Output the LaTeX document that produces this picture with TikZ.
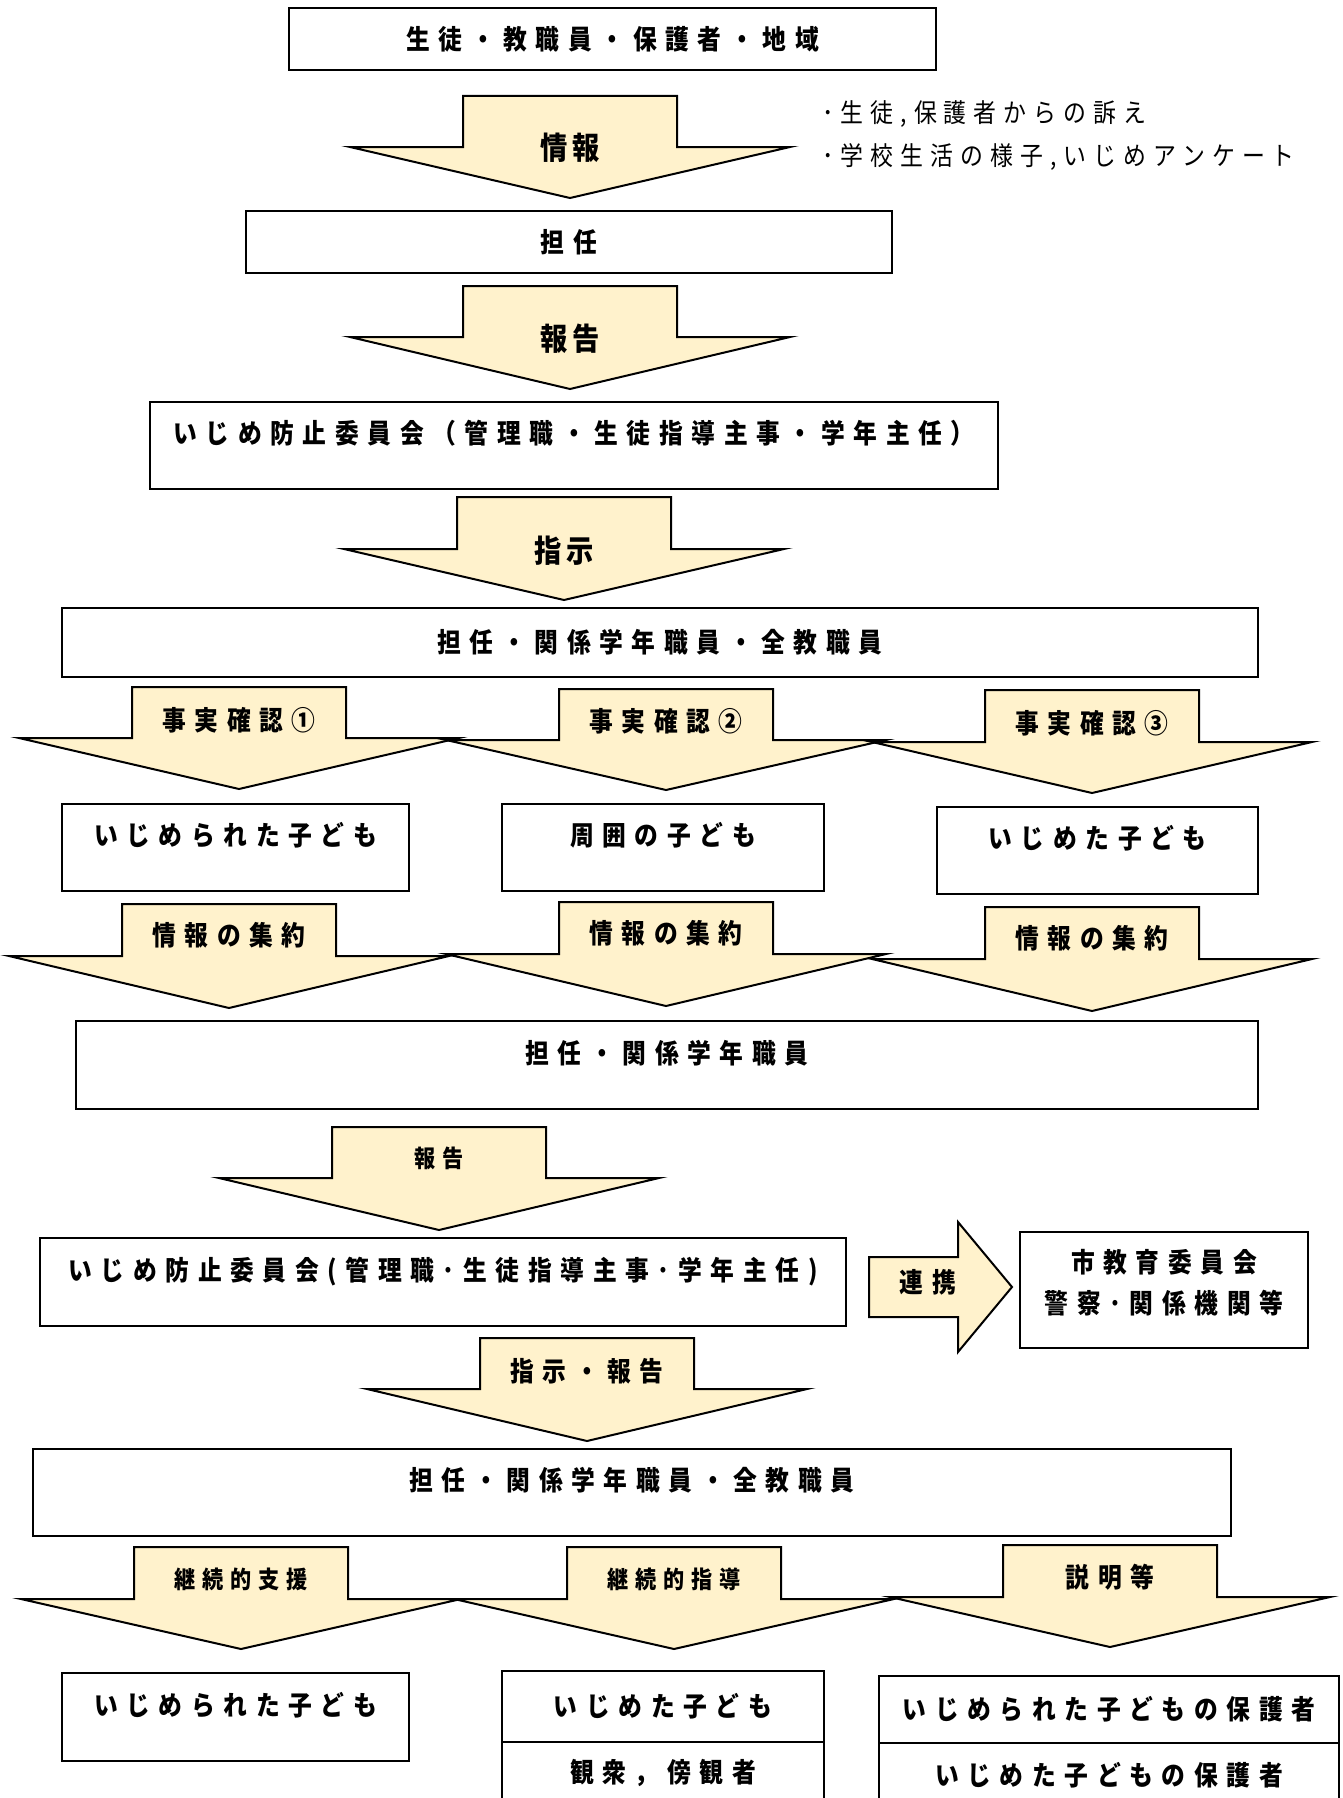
\documentclass[tikz,border=0pt]{standalone}
\usepackage{fontspec}
\usetikzlibrary{positioning}
\newfontfamily\jpfont{Noto Sans CJK JP}[FakeStretch=0.88]
\definecolor{arrowfill}{RGB}{255,242,204}

\newcommand{\boxfont}{\jpfont\bfseries\fontsize{13.5}{16}\selectfont\addfontfeature{LetterSpace=32}}
\newcommand{\bigfont}{\jpfont\bfseries\fontsize{15.5}{18}\selectfont\addfontfeature{LetterSpace=15}}
\newcommand{\smallfont}{\jpfont\bfseries\fontsize{12}{14}\selectfont\addfontfeature{LetterSpace=29}}
\newcommand{\notefont}{\jpfont\fontsize{13}{15}\selectfont\addfontfeature{LetterSpace=27}}

% block arrow pointing down: centre x, top y, shoulder y, tip y
\newcommand{\blockdown}[4]{%
  \draw[blockarrow] (#1-107,#2) -- (#1+107,#2) -- (#1+107,#3) -- (#1+220,#3)
    -- (#1,#4) -- (#1-220,#3) -- (#1-107,#3) -- cycle;
}

\begin{document}
\begin{tikzpicture}[
    x=0.5pt, y=-0.5pt,
    flowbox/.style={draw, line width=1.1pt, fill=white, inner sep=0pt, font=\boxfont},
    raised/.style={text depth=13.6pt},
    blockarrow/.style={draw, line width=1pt, fill=arrowfill},
    biglabel/.style={font=\bigfont, inner sep=0pt},
    midlabel/.style={font=\boxfont, inner sep=0pt},
    smalllabel/.style={font=\smallfont, inner sep=0pt},
    sidenote/.style={font=\notefont, anchor=west, inner sep=0pt}
]
    \clip (0,0) rectangle (1343,1798);

    % Sources of information
    \node[flowbox, minimum width=323.5pt, minimum height=31pt] (sources) at (612.5,39) {生徒・教職員・保護者・地域};

    \blockdown{570}{96}{147}{198}
    \node[biglabel] (info) at (570,148) {情報};
    \node[sidenote] (note1) at (822,114) {･生徒,保護者からの訴え};
    \node[sidenote] (note2) at (822,157) {･学校生活の様子,いじめアンケート};

    % Homeroom teacher
    \node[flowbox, minimum width=323pt, minimum height=31pt] (homeroom) at (569,242) {担任};

    \blockdown{570}{286}{337}{389}
    \node[biglabel] (report) at (570,339) {報告};

    % Committee
    \node[flowbox, raised, minimum width=424pt, minimum height=43.5pt] (committee) at (574,445.5) {いじめ防止委員会（管理職・生徒指導主事・学年主任）};

    \blockdown{564}{497}{549}{600}
    \node[biglabel] (order) at (564,551) {指示};

    \node[flowbox, minimum width=598pt, minimum height=34.5pt] (allstaff) at (660,642.5) {担任・関係学年職員・全教職員};

    % Fact checks
    \blockdown{239}{687}{738}{789}
    \node[midlabel] (check1) at (239,720) {事実確認①};
    \blockdown{666}{689}{740}{790}
    \node[midlabel] (check2) at (666,721) {事実確認②};
    \blockdown{1092}{690}{742}{793}
    \node[midlabel] (check3) at (1092,723) {事実確認③};

    \node[flowbox, raised, minimum width=173.5pt, minimum height=43.5pt] (victim) at (235.5,847.5) {いじめられた子ども};
    \node[flowbox, raised, minimum width=161pt, minimum height=43.5pt] (around) at (663,847.5) {周囲の子ども};
    \node[flowbox, raised, minimum width=160.5pt, minimum height=43.5pt] (bully) at (1097.5,850.5) {いじめた子ども};

    % Collecting information
    \blockdown{229}{904}{956}{1008}
    \node[midlabel] (collect1) at (229,935) {情報の集約};
    \blockdown{666}{902}{954}{1006}
    \node[midlabel] (collect2) at (666,933) {情報の集約};
    \blockdown{1092}{907}{959}{1011}
    \node[midlabel] (collect3) at (1092,938) {情報の集約};

    \node[flowbox, raised, minimum width=591pt, minimum height=44pt] (gradestaff) at (667,1065) {担任・関係学年職員};

    \blockdown{439}{1127}{1178}{1230}
    \node[smalllabel] (report2) at (439,1158) {報告};

    % Committee and outside bodies
    \node[flowbox, raised, minimum width=403pt, minimum height=44pt] (committee2) at (443,1282) {いじめ防止委員会(管理職･生徒指導主事･学年主任)};
    \draw[blockarrow] (869,1257) -- (958,1257) -- (958,1222) -- (1012,1287)
        -- (958,1352) -- (958,1317) -- (869,1317) -- cycle;
    \node[midlabel] (link) at (928,1282) {連携};
    \node[flowbox, align=center, text depth=9pt, minimum width=144pt, minimum height=58pt] (city) at (1164,1290) {市教育委員会\\[4.5pt]警察･関係機関等};

    \blockdown{587}{1338}{1389}{1441}
    \node[midlabel] (order2) at (587,1371) {指示・報告};

    \node[flowbox, raised, minimum width=599pt, minimum height=43.5pt] (allstaff2) at (632,1492.5) {担任・関係学年職員・全教職員};

    % Follow-up
    \blockdown{241}{1547}{1599}{1649}
    \node[smalllabel] (support) at (241,1579) {継続的支援};
    \blockdown{674}{1547}{1599}{1649}
    \node[smalllabel] (guide) at (674,1579) {継続的指導};
    \blockdown{1110}{1545}{1597}{1647}
    \node[midlabel] (explain) at (1110,1577) {説明等};

    \node[flowbox, raised, minimum width=173.5pt, minimum height=44pt] (victim2) at (235.5,1717) {いじめられた子ども};
    \node[flowbox, minimum width=161pt, minimum height=35.5pt] (bully2) at (663,1706.5) {いじめた子ども};
    \node[flowbox, minimum width=161pt, minimum height=31pt, below=-1.1pt of bully2] (bystander) {観衆，傍観者};
    \node[flowbox, minimum width=230pt, minimum height=33.5pt] (parentv) at (1109,1709.5) {いじめられた子どもの保護者};
    \node[flowbox, minimum width=230pt, minimum height=32pt, below=-1.1pt of parentv] (parentb) {いじめた子どもの保護者};

\end{tikzpicture}
\end{document}
